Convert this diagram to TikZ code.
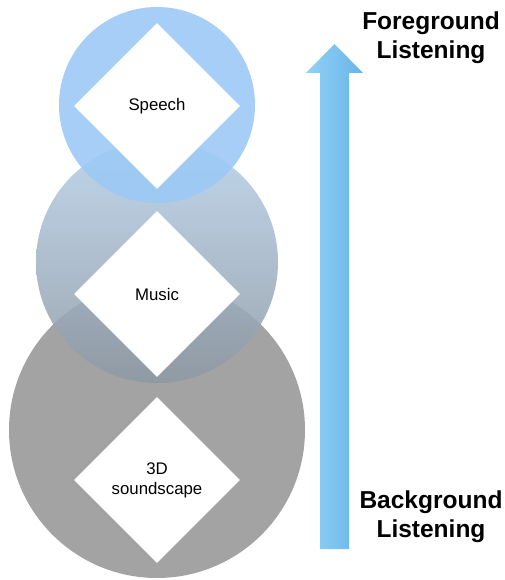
\documentclass[tikz,border=0pt]{standalone}
\usepackage{fontspec}
\setmainfont{Liberation Sans}
\usetikzlibrary{shapes.geometric}

\definecolor{speechblue}{HTML}{9CC9F6}
\definecolor{musictop}{HTML}{B6CFE8}
\definecolor{musicbottom}{HTML}{8E99A4}
\definecolor{scapegray}{HTML}{A3A3A3}
\definecolor{arrowlight}{HTML}{92D1F7}
\definecolor{arrowdark}{HTML}{66B5E8}

\begin{document}
\begin{tikzpicture}[x=1pt,y=-1pt,
		layer/.style={shape=diamond,fill=white,minimum width=166pt,minimum height=166pt,inner sep=0pt,align=center,font=\fontsize{16.8}{20}\selectfont},
		side/.style={align=center,font=\fontsize{24.5}{29}\selectfont\bfseries}]
		\useasboundingbox (0,0) rectangle (504,580);
		% circles, back to front
		\fill[scapegray] (157,430) circle (148);
		\shade[top color=musictop,bottom color=musicbottom,fill opacity=0.87] (157,262) circle (121);
		\fill[speechblue,fill opacity=0.9] (157,105) circle (98);
		% diamonds
		\node[layer] (speech) at (157,106) {Speech};
		\node[layer] (music) at (157,294) {Music};
		\node[layer] (scape) at (157,480) {3D\\soundscape};
		% arrow
		\shade[left color=arrowlight,right color=arrowdark] (320,549) -- (320,73) -- (306,73) -- (334.5,44) -- (363,73) -- (349,73) -- (349,549) -- cycle;
		\node[side] (fore) at (431,38) {Foreground\\Listening};
		\node[side] (back) at (431,517) {Background\\Listening};
\end{tikzpicture}
\end{document}
